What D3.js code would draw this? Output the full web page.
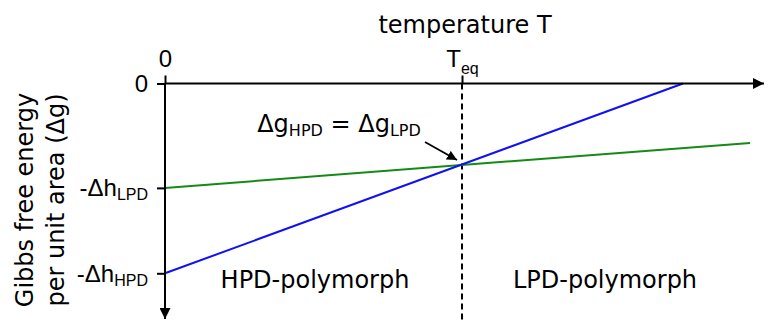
<!DOCTYPE html>
<html>
<head>
<meta charset="utf-8">
<script src="https://cdn.jsdelivr.net/npm/d3@7"></script>
<style>
  body { margin: 0; background: #fff; }
  svg { font-family: "DejaVu Sans", Verdana, sans-serif; }
</style>
</head>
<body>
<div id="chart"></div>
<script>
// temperature in units of T_eq, free energy in units of dh_HPD
const hpdTemp = [0, 1.744];
const hpdG = [-1, 0];
const lpdTemp = [0, 1.97];
const lpdG = [-0.55, -0.313];
const xTickVals = [0, 1];
const xTickMain = ['0', 'T'];
const xTickSub = ['', 'eq'];
const yTickVals = [0, -0.55, -1];
const yTickMain = ['0', '-\u0394h', '-\u0394h'];
const yTickSub = ['', 'LPD', 'HPD'];
const regionNames = ['HPD-polymorph', 'LPD-polymorph'];

const W = 765, H = 320;
const svg = d3.select('#chart').append('svg')
  .attr('width', W).attr('height', H);

const x = d3.scaleLinear().domain([0, 1]).range([165, 462]);
const y = d3.scaleLinear().domain([0, -1]).range([83.5, 273.3]);

const defs = svg.append('defs');
defs.append('marker')
  .attr('id', 'head')
  .attr('viewBox', '0 0 10 10')
  .attr('refX', 10).attr('refY', 5)
  .attr('markerWidth', 5.5).attr('markerHeight', 5.5)
  .attr('markerUnits', 'strokeWidth')
  .attr('orient', 'auto')
  .append('path').attr('d', 'M0,0 L10,5 L0,10 Z').attr('fill', '#000');

// vertical dashed line at T_eq
svg.append('line')
  .attr('x1', x(1)).attr('x2', x(1))
  .attr('y1', y(0)).attr('y2', H)
  .attr('stroke', '#000').attr('stroke-width', 2)
  .attr('stroke-dasharray', '6,4');

// free energy lines
const line = d3.line().x(d => x(d[0])).y(d => y(d[1]));
svg.append('path')
  .datum(lpdTemp.map((t, i) => [t, lpdG[i]]))
  .attr('d', line).attr('fill', 'none')
  .attr('stroke', '#158a15').attr('stroke-width', 2);
svg.append('path')
  .datum(hpdTemp.map((t, i) => [t, hpdG[i]]))
  .attr('d', line).attr('fill', 'none')
  .attr('stroke', '#1010f5').attr('stroke-width', 2);

// axes lines with arrows
svg.append('line')
  .attr('x1', x(0)).attr('y1', y(0))
  .attr('x2', 764).attr('y2', y(0))
  .attr('stroke', '#000').attr('stroke-width', 2)
  .attr('marker-end', 'url(#head)');
svg.append('line')
  .attr('x1', x(0)).attr('y1', y(0))
  .attr('x2', x(0)).attr('y2', 319)
  .attr('stroke', '#000').attr('stroke-width', 2)
  .attr('marker-end', 'url(#head)');

// x ticks
const xAxis = svg.append('g')
  .attr('transform', `translate(0,${y(0)})`)
  .call(d3.axisTop(x).tickValues(xTickVals).tickSize(8).tickFormat(''));
xAxis.select('.domain').remove();
xAxis.selectAll('.tick line').attr('stroke-width', 2);
xAxis.selectAll('.tick').each(function(d, i) {
  const t = d3.select(this).append('text')
    .attr('y', -17).attr('fill', '#000')
    .attr('text-anchor', 'middle')
    .style('font-size', '24px');
  t.append('tspan').text(xTickMain[i]);
  if (xTickSub[i]) {
    t.append('tspan').attr('dy', 7).style('font-size', '16px').text(xTickSub[i]);
  }
});

// y ticks
const yAxis = svg.append('g')
  .attr('transform', `translate(${x(0)},0)`)
  .call(d3.axisLeft(y).tickValues(yTickVals).tickSize(8).tickFormat(''));
yAxis.select('.domain').remove();
yAxis.selectAll('.tick line').attr('stroke-width', 2);
yAxis.selectAll('.tick').each(function(d, i) {
  const t = d3.select(this).append('text')
    .attr('x', -17).attr('y', 8).attr('fill', '#000')
    .attr('text-anchor', 'end')
    .style('font-size', '24px');
  t.append('tspan').text(yTickMain[i]);
  if (yTickSub[i]) {
    t.append('tspan').attr('dy', 4).style('font-size', '16px').text(yTickSub[i]);
  }
});

// axis titles
svg.append('text')
  .attr('x', 465).attr('y', 33)
  .attr('text-anchor', 'middle')
  .style('font-size', '24px')
  .text('temperature T');

const yTitle = svg.append('text')
  .attr('transform', 'translate(33,200) rotate(-90)')
  .attr('text-anchor', 'middle')
  .style('font-size', '24px');
yTitle.append('tspan').attr('x', 0).attr('y', 0).text('Gibbs free energy');
yTitle.append('tspan').attr('x', 0).attr('y', 31).text('per unit area (\u0394g)');

// equality annotation
const eq = svg.append('text')
  .attr('x', 339).attr('y', 132)
  .attr('text-anchor', 'middle')
  .style('font-size', '24px');
eq.append('tspan').text('\u0394g');
eq.append('tspan').attr('dy', 4).style('font-size', '16px').text('HPD');
eq.append('tspan').attr('dy', -4).text(' = \u0394g');
eq.append('tspan').attr('dy', 4).style('font-size', '16px').text('LPD');

svg.append('line')
  .attr('x1', 425).attr('y1', 142)
  .attr('x2', 457).attr('y2', 160)
  .attr('stroke', '#000').attr('stroke-width', 1.8)
  .attr('marker-end', 'url(#head)');

// region labels
svg.selectAll('.region')
  .data(regionNames)
  .enter().append('text')
  .attr('class', 'region')
  .attr('x', (d, i) => i === 0 ? 315 : 605)
  .attr('y', 288)
  .attr('text-anchor', 'middle')
  .style('font-size', '24px')
  .text(d => d);
</script>
</body>
</html>
